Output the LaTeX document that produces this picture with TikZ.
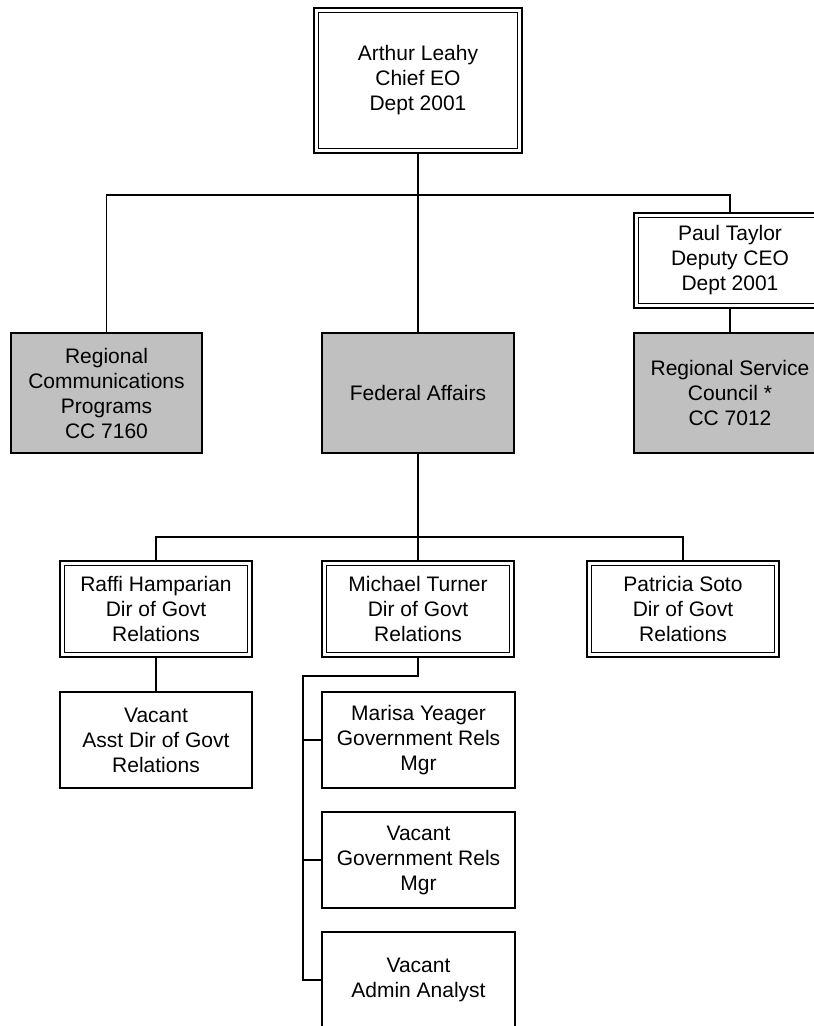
\documentclass[tikz,border=0pt]{standalone}
\usepackage{fontspec}
\setmainfont{Liberation Sans}
\usetikzlibrary{backgrounds}
\definecolor{boxgray}{RGB}{192,192,192}
\tikzset{
  base/.style={draw=black, line width=1.5pt, fill=white, inner sep=0pt, outer sep=0pt,
    align=center, font=\fontsize{21}{25}\selectfont},
  sbox/.style={base},
  gbox/.style={base, fill=boxgray},
  dbox/.style={base, line width=1.2pt, double=white, double distance=3.2pt},
  conn/.style={line width=1.5pt, line cap=rect},
  thick conn/.style={line width=2.2pt},
}
\begin{document}
\begin{tikzpicture}[x=1pt,y=1pt]
\useasboundingbox (0,0) rectangle (814,-1026);
% nodes (outer dims; double boxes shrunk by 4.4)
\node[dbox, minimum width=203.6, minimum height=140.6] (top) at (418,-80.5) {Arthur Leahy\\Chief EO\\Dept 2001};
\node[gbox, minimum width=191, minimum height=120] (rcp) at (106.5,-393) {Regional\\Communications\\Programs\\CC 7160};
\node[gbox, minimum width=192, minimum height=120] (fed) at (418,-393) {Federal Affairs};
\node[dbox, minimum width=187.6, minimum height=90.6] (paul) at (730,-260.5) {Paul Taylor\\Deputy CEO\\Dept 2001};
\node[gbox, minimum width=192, minimum height=120] (rsc) at (730,-393) {Regional Service\\Council *\\CC 7012};
\node[dbox, minimum width=187.6, minimum height=91.6] (raffi) at (156,-609) {Raffi Hamparian\\Dir of Govt\\Relations};
\node[dbox, minimum width=187.6, minimum height=91.6] (mike) at (418,-609) {Michael Turner\\Dir of Govt\\Relations};
\node[dbox, minimum width=187.6, minimum height=91.6] (pat) at (683,-609) {Patricia Soto\\Dir of Govt\\Relations};
\node[sbox, minimum width=192, minimum height=96] (vasst) at (156,-740) {Vacant\\Asst Dir of Govt\\Relations};
\node[sbox, minimum width=193, minimum height=96] (marisa) at (418.5,-740) {Marisa Yeager\\Government Rels\\Mgr};
\node[sbox, minimum width=193, minimum height=96] (vgr) at (418.5,-860) {Vacant\\Government Rels\\Mgr};
\node[sbox, minimum width=193, minimum height=96] (admin) at (418.5,-980) {Vacant\\Admin Analyst};
\coordinate (j1) at (418,-195);
\coordinate (j2) at (418,-537);
\coordinate (m1) at (303,-676);
\begin{scope}[on background layer]
\draw[conn] (top.south) -- (fed.north);
\draw[conn] (rcp.north) |- (j1) -| (paul.north);
\draw[conn] (paul.south) -- (rsc.north);
\draw[conn] (fed.south) -- (mike.north);
\draw[conn] (raffi.north) |- (j2) -| (pat.north);
\draw[conn] (raffi.south) -- (vasst.north);
\draw[thick conn] (mike.south) |- (m1) -- (m1 |- admin.west) -- (admin.west);
\draw[thick conn] (m1 |- marisa.west) -- (marisa.west);
\draw[thick conn] (m1 |- vgr.west) -- (vgr.west);
\end{scope}
\end{tikzpicture}
\end{document}
